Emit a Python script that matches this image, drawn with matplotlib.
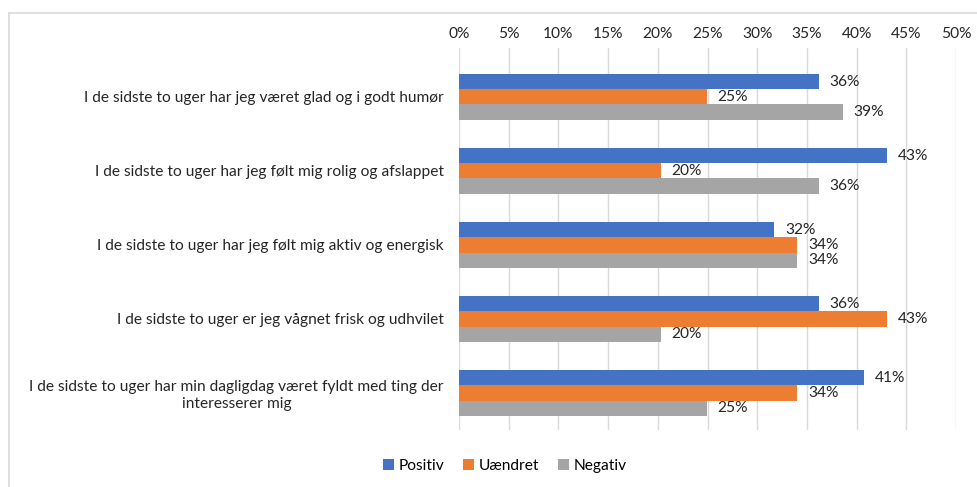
import matplotlib.pyplot as plt
import numpy as np
from matplotlib.lines import Line2D

plt.rcParams['font.family'] = ['Lato', 'DejaVu Sans']

categories = [
    'I de sidste to uger har jeg været glad og i godt humør',
    'I de sidste to uger har jeg følt mig rolig og afslappet',
    'I de sidste to uger har jeg følt mig aktiv og energisk',
    'I de sidste to uger er jeg vågnet frisk og udhvilet',
    'I de sidste to uger har min dagligdag været fyldt med ting der\ninteresserer mig',
]
positiv = [36.2, 43.1, 31.7, 36.2, 40.7]
uaendret = [24.9, 20.3, 34.0, 43.1, 34.0]
negativ = [38.6, 36.2, 34.0, 20.3, 24.9]
series = [('Positiv', positiv, '#4472C4'),
          ('Uændret', uaendret, '#ED7D31'),
          ('Negativ', negativ, '#A5A5A5')]

fs = 11.2

fig = plt.figure(figsize=(9.77, 4.87), dpi=100)
ax = fig.add_axes([459 / 977, 1 - 430 / 487, 497 / 977, 382 / 487])

y = np.arange(len(categories))
h = 0.205
for i, (name, vals, col) in enumerate(series):
    pos = y + (i - 1) * h
    ax.barh(pos, vals, height=h, color=col, label=name, linewidth=0)
    for p, v in zip(pos, vals):
        ax.text(v + 1.1, p, f'{round(v)}%', va='center', ha='left', fontsize=fs, color='#262626')

ax.set_xlim(0, 50)
ax.set_ylim(4.5, -0.66)
ax.set_xticks(range(0, 51, 5))
ax.set_xticklabels([f'{t}%' for t in range(0, 51, 5)])
ax.xaxis.tick_top()
ax.tick_params(axis='x', length=0, pad=5, labelsize=fs, labelcolor='#262626')
ax.set_yticks(y)
ax.set_yticklabels(categories, multialignment='center')
ax.tick_params(axis='y', length=0, pad=11, labelsize=fs, labelcolor='#262626')
ax.grid(axis='x', color='#D9D9D9', linewidth=1)
ax.set_axisbelow(True)
for s in ax.spines.values():
    s.set_visible(False)

fig.legend(loc='center', bbox_to_anchor=(505 / 977, 1 - 466 / 487), ncol=3, frameon=False,
           fontsize=fs, handlelength=0.7, handleheight=0.7, handletextpad=0.3, columnspacing=1.2)

# chart frame (top and left edges visible)
fig.add_artist(Line2D([9 / 977, 1], [1 - 13 / 487] * 2, color='#D9D9D9', lw=1.2, transform=fig.transFigure))
fig.add_artist(Line2D([9 / 977] * 2, [0, 1 - 13 / 487], color='#D9D9D9', lw=1.2, transform=fig.transFigure))

fig.savefig('out.png', dpi=100)
